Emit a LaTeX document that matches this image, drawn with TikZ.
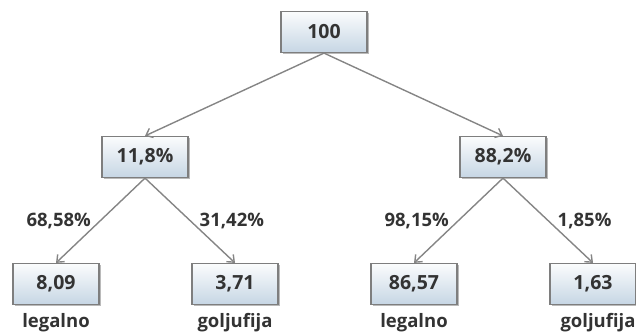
\documentclass[tikz,border=0pt]{standalone}
\usepackage{fontspec}
\setmainfont{Open Sans}
\usetikzlibrary{arrows.meta, positioning, shadows}

\definecolor{boxtop}{HTML}{FBFCFD}
\definecolor{boxbot}{HTML}{C6D6E4}
\definecolor{boxline}{HTML}{7E7E7E}
\definecolor{txt}{HTML}{333333}
\definecolor{edgecol}{HTML}{858585}

\tikzset{
    probbox/.style={rectangle, draw=boxline, line width=1.2pt, top color=boxtop, bottom color=boxbot,
        minimum width=86pt, minimum height=41pt, font=\fontsize{19.5}{22}\selectfont\bfseries, text=txt,
        drop shadow={shadow xshift=1.5pt, shadow yshift=-1.5pt, fill=black!45, opacity=0.6}},
    outcome/.style={font=\fontsize{18.5}{21}\selectfont\bfseries, text=txt},
    pct/.style={font=\fontsize{18.5}{21}\selectfont\bfseries, text=txt, inner sep=4pt},
    branch/.style={->, draw=edgecol, line width=1.4pt}
}

\begin{document}
\begin{tikzpicture}[x=1pt, y=-1pt, >={Straight Barb[length=6pt, width=10pt]}, node distance=125pt]
    \useasboundingbox (0,0) rectangle (636,333);
        \node[probbox] (root) at (324,32) {100};
        \node[probbox, below of=root, xshift=-179pt] (low) {11,8\%};
        \node[probbox, below of=root, xshift=179pt] (high) {88,2\%};
        \node[probbox, below of=low, yshift=-2pt, xshift=-89pt] (lowlegal) {8,09};
        \node[probbox, below of=low, yshift=-2pt, xshift=90pt] (lowfraud) {3,71};
        \node[probbox, below of=high, yshift=-2pt, xshift=-89pt] (highlegal) {86,57};
        \node[probbox, below of=high, yshift=-2pt, xshift=90pt] (highfraud) {1,63};
        \node[outcome, node distance=39pt, below of=lowlegal] (lab1) {legalno};
        \node[outcome, node distance=39pt, below of=lowfraud] (lab2) {goljufija};
        \node[outcome, node distance=39pt, below of=highlegal] (lab3) {legalno};
        \node[outcome, node distance=39pt, below of=highfraud, xshift=5pt] (lab4) {goljufija};

        \draw[branch] (root.south) -- (low.north);
        \draw[branch] (root.south) -- (high.north);
        \draw[branch] (low.south) -- node[pct, midway, left=5pt] {68,58\%} (lowlegal.north);
        \draw[branch] (low.south) -- node[pct, midway, right=5pt] {31,42\%} (lowfraud.north);
        \draw[branch] (high.south) -- node[pct, midway, left=5pt] {98,15\%} (highlegal.north);
        \draw[branch] (high.south) -- node[pct, midway, right=5pt] {1,85\%} (highfraud.north);
    \end{tikzpicture}
\end{document}
